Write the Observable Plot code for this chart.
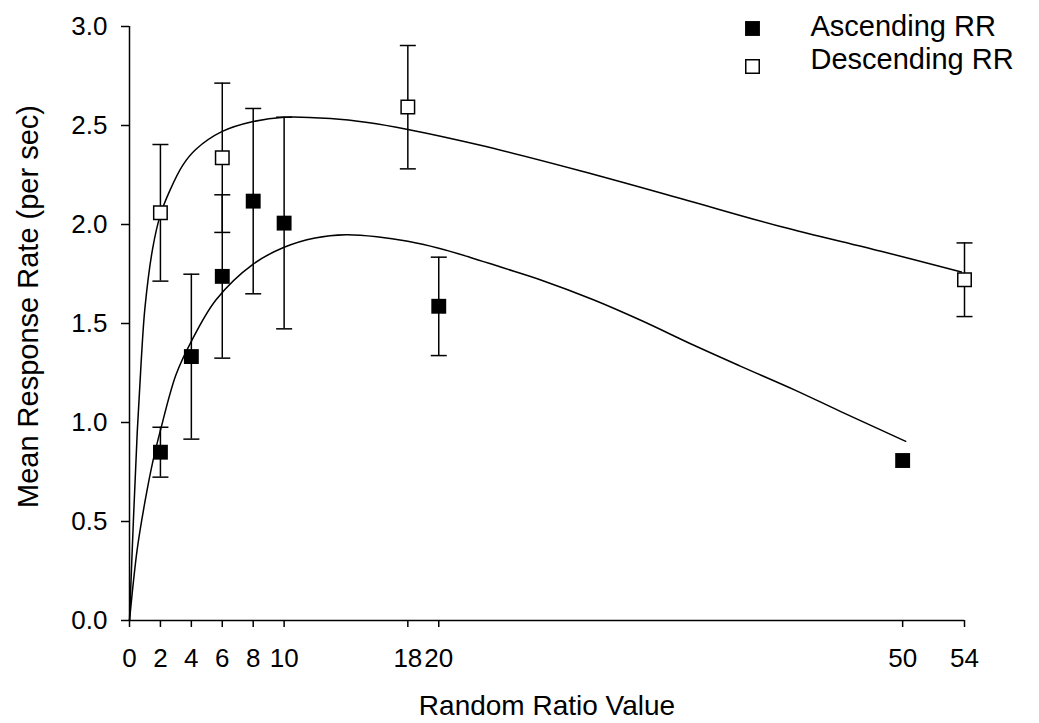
<!DOCTYPE html>
<html><head><meta charset="utf-8">
<script src="https://cdn.jsdelivr.net/npm/d3@7"></script>
<script src="https://cdn.jsdelivr.net/npm/@observablehq/plot@0.6"></script>
<style>
html,body{margin:0;padding:0;background:#fff;}
#chart{width:1039px;height:723px;}
</style></head><body><div id="chart"></div>
<script>
// Ascending RR data
const ascX = [2, 4, 6, 8, 10, 20, 50];
const ascY = [0.85, 1.333, 1.738, 2.118, 2.007, 1.587, 0.808];
const ascLo = [0.724, 0.916, 1.325, 1.65, 1.473, 1.338, null];
const ascHi = [0.976, 1.749, 2.15, 2.586, 2.542, 1.835, null];
// Descending RR data
const descX = [2, 6, 18, 54];
const descY = [2.059, 2.337, 2.593, 1.721];
const descLo = [1.714, 1.96, 2.281, 1.535];
const descHi = [2.404, 2.714, 2.904, 1.907];
// fitted curves
const ascCurveX = [0, 0.5, 1, 1.5, 2, 3, 4, 5.6, 8, 10, 12, 14, 16, 18, 20, 22, 24, 26.6, 30, 33.1, 36.5, 39.5, 43, 46, 50.2];
const ascCurveY = [0, 0.36, 0.6, 0.8, 0.96, 1.24, 1.41, 1.62, 1.80, 1.885, 1.932, 1.948, 1.938, 1.915, 1.88, 1.835, 1.785, 1.72, 1.62, 1.515, 1.39, 1.285, 1.165, 1.055, 0.905];
const descCurveX = [0, 0.25, 0.5, 0.75, 1, 1.5, 2, 2.6, 3.45, 4.3, 6, 8, 10, 13, 15.4, 18, 22.7, 29.2, 35.7, 42.1, 48.6, 53.8];
const descCurveY = [0, 0.5, 0.95, 1.3, 1.58, 1.88, 2.05, 2.17, 2.30, 2.38, 2.47, 2.52, 2.542, 2.535, 2.515, 2.48, 2.40, 2.27, 2.13, 1.99, 1.865, 1.76];
// ticks & labels
const xTicks = [0, 2, 4, 6, 8, 10, 18, 20, 50, 54];
const yTicks = [0, 0.5, 1.0, 1.5, 2.0, 2.5, 3.0];
const xTitle = "Random Ratio Value";
const yTitle = "Mean Response Rate (per sec)";
const seriesNames = ["Ascending RR", "Descending RR"];

const asc = ascX.map((x, i) => ({x, y: ascY[i], lo: ascLo[i], hi: ascHi[i]}));
const desc = descX.map((x, i) => ({x, y: descY[i], lo: descLo[i], hi: descHi[i]}));
const ascErr = asc.filter(d => d.lo != null);
const ascCurve = ascCurveX.map((x, i) => ({x, y: ascCurveY[i]}));
const descCurve = descCurveX.map((x, i) => ({x, y: descCurveY[i]}));

const capSymbol = {draw(ctx) { ctx.moveTo(-8, 0); ctx.lineTo(8, 0); }};
const caps = data => [
  Plot.dot(data, {x: "x", y: "lo", symbol: capSymbol, stroke: "black", strokeWidth: 1.5, fill: "none", r: 4}),
  Plot.dot(data, {x: "x", y: "hi", symbol: capSymbol, stroke: "black", strokeWidth: 1.5, fill: "none", r: 4})
];

const font = "'Liberation Sans', Arial, Helvetica, sans-serif";
const chart = Plot.plot({
  width: 1039,
  height: 723,
  marginLeft: 129,
  marginRight: 75,
  marginTop: 26,
  marginBottom: 103,
  style: {fontFamily: font, fontSize: "26px", color: "black", background: "white", overflow: "visible"},
  x: {domain: [0, 54]},
  y: {domain: [0, 3]},
  marks: [
    Plot.axisX({ticks: xTicks, tickSize: 7, tickPadding: 21, strokeWidth: 1.5, label: null, fontSize: 26, tickFormat: d => String(d)}),
    Plot.axisY({ticks: yTicks, tickSize: 8, tickPadding: 14, strokeWidth: 1.5, label: null, fontSize: 26, tickFormat: d3.format(".1f")}),
    Plot.ruleX([0], {y1: 0, y2: 3, stroke: "black", strokeWidth: 1.5}),
    Plot.ruleY([0], {x1: 0, x2: 54, stroke: "black", strokeWidth: 1.5}),
    // curves
    Plot.line(descCurve, {x: "x", y: "y", curve: "catmull-rom", stroke: "black", strokeWidth: 1.5}),
    Plot.line(ascCurve, {x: "x", y: "y", curve: "catmull-rom", stroke: "black", strokeWidth: 1.5}),
    // error bars
    Plot.ruleX(ascErr, {x: "x", y1: "lo", y2: "hi", stroke: "black", strokeWidth: 1.5}),
    ...caps(ascErr),
    Plot.ruleX(desc, {x: "x", y1: "lo", y2: "hi", stroke: "black", strokeWidth: 1.5}),
    ...caps(desc),
    // points
    Plot.dot(asc, {x: "x", y: "y", symbol: "square", r: 8.4, fill: "black", stroke: "none"}),
    Plot.dot(desc, {x: "x", y: "y", symbol: "square", r: 7.6, fill: "white", stroke: "black", strokeWidth: 1.5}),
    // axis titles
    Plot.text([xTitle], {frameAnchor: "bottom", dy: 86, fontSize: 28, textAnchor: "middle", lineAnchor: "middle", text: d => d}),
    Plot.text([yTitle], {frameAnchor: "left", dx: -101, dy: -17, rotate: -90, fontSize: 29, textAnchor: "middle", lineAnchor: "middle", text: d => d}),
    // legend
    Plot.dot([seriesNames[0]], {frameAnchor: "top-left", dx: 623, dy: 2, symbol: "square", r: 8.4, fill: "black", stroke: "none"}),
    Plot.dot([seriesNames[1]], {frameAnchor: "top-left", dx: 623, dy: 40, symbol: "square", r: 7.6, fill: "white", stroke: "black", strokeWidth: 1.5}),
    Plot.text([seriesNames[0]], {frameAnchor: "top-left", dx: 681, dy: 0, fontSize: 29, textAnchor: "start", lineAnchor: "middle", text: d => d}),
    Plot.text([seriesNames[1]], {frameAnchor: "top-left", dx: 681, dy: 33, fontSize: 29, textAnchor: "start", lineAnchor: "middle", text: d => d})
  ]
});
document.getElementById("chart").appendChild(chart);
</script>
</body></html>
